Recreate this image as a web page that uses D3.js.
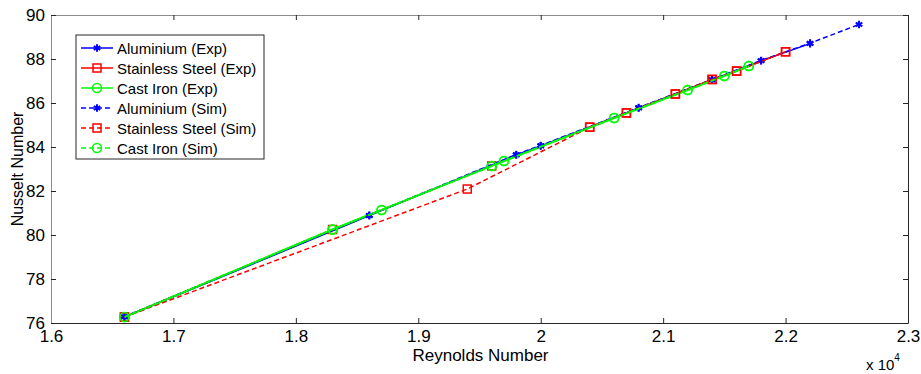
<!DOCTYPE html>
<html>
<head>
<meta charset="utf-8">
<script src="https://cdn.jsdelivr.net/npm/d3@7"></script>
<style>
  body { margin: 0; background: #fff; }
  svg { font-family: "Liberation Sans", Arial, sans-serif; }
</style>
</head>
<body>
<svg id="chart" width="921" height="374"></svg>
<script>
// values
const reAlExp = [16600, 18600, 19800, 20000, 20800, 21400, 21800, 22200];
const nuAlExp = [76.27, 80.88, 83.64, 84.05, 85.77, 87.05, 87.92, 88.7];
const reAlSim = [16600, 18600, 19800, 20000, 20800, 21400, 21800, 22200, 22600];
const nuAlSim = [76.29, 80.9, 83.66, 84.07, 85.79, 87.07, 87.93, 88.72, 89.57];

const reSsExp = [16600, 18300, 19600, 20400, 20700, 21100, 21400, 21600, 22000];
const nuSsExp = [76.27, 80.25, 83.14, 84.9, 85.55, 86.41, 87.07, 87.45, 88.33];
const reSsSim = [16600, 19400, 20400, 20700, 21100, 21400, 21600, 22000];
const nuSsSim = [76.27, 82.09, 84.9, 85.55, 86.41, 87.07, 87.45, 88.33];

const reCiExp = [16600, 18300, 18700, 19600, 19700, 20600, 21200, 21500, 21700];
const nuCiExp = [76.27, 80.25, 81.14, 83.14, 83.36, 85.32, 86.59, 87.23, 87.68];
const reCiSim = [16600, 18300, 18700, 19600, 19700, 20600, 21200, 21500, 21700];
const nuCiSim = [76.27, 80.25, 81.14, 83.14, 83.36, 85.32, 86.59, 87.23, 87.68];

const xTicks = [16000, 17000, 18000, 19000, 20000, 21000, 22000, 23000];
const xTickLabels = ["1.6", "1.7", "1.8", "1.9", "2", "2.1", "2.2", "2.3"];
const yTicks = [76, 78, 80, 82, 84, 86, 88, 90];

const series = [
  { name: "Aluminium (Exp)", re: reAlExp, nu: nuAlExp, color: "#0000ff", dash: null, marker: "star" },
  { name: "Stainless Steel (Exp)", re: reSsExp, nu: nuSsExp, color: "#ff0000", dash: null, marker: "square" },
  { name: "Cast Iron (Exp)", re: reCiExp, nu: nuCiExp, color: "#00ff00", dash: null, marker: "circle" },
  { name: "Aluminium (Sim)", re: reAlSim, nu: nuAlSim, color: "#0000ff", dash: "5,3", marker: "star" },
  { name: "Stainless Steel (Sim)", re: reSsSim, nu: nuSsSim, color: "#ff0000", dash: "5,3", marker: "square" },
  { name: "Cast Iron (Sim)", re: reCiSim, nu: nuCiSim, color: "#00ff00", dash: "5,3", marker: "circle" }
];

var svg = d3.select("#chart"),
  margin = { top: 15, right: 13, bottom: 51, left: 51 },
  width = +svg.attr("width") - margin.left - margin.right,
  height = +svg.attr("height") - margin.top - margin.bottom;

var x = d3.scaleLinear().domain([16000, 23000]).range([0, width]);
var y = d3.scaleLinear().domain([76, 90]).range([height, 0]);

var g = svg.append("g")
  .attr("transform", "translate(" + margin.left + "," + margin.top + ")");

g.append("rect").attr("width", width).attr("height", height).attr("fill", "#fff");

// axes, ticks pointing inwards like matlab
var xAxis = g.append("g")
  .attr("transform", "translate(0," + height + ")")
  .call(d3.axisBottom(x).tickValues(xTicks)
    .tickFormat(function(d, i) { return xTickLabels[i]; })
    .tickSizeInner(-5).tickSizeOuter(0).tickPadding(7));
var xTop = g.append("g")
  .call(d3.axisTop(x).tickValues(xTicks).tickFormat("")
    .tickSizeInner(-5).tickSizeOuter(0));
var yAxis = g.append("g")
  .call(d3.axisLeft(y).tickValues(yTicks)
    .tickSizeInner(-5).tickSizeOuter(0).tickPadding(6));
var yRight = g.append("g")
  .attr("transform", "translate(" + width + ",0)")
  .call(d3.axisRight(y).tickValues(yTicks).tickFormat("")
    .tickSizeInner(-5).tickSizeOuter(0));

xAxis.select(".domain").attr("stroke", "#262626");
yRight.select(".domain").attr("stroke", "#262626");
xTop.select(".domain").attr("stroke", "#8c8c8c");
yAxis.select(".domain").attr("stroke", "#8c8c8c");
[xAxis, xTop, yAxis, yRight].forEach(function(a) {
  a.selectAll(".tick line").attr("stroke", "#262626");
});
xAxis.selectAll(".tick text")
  .attr("font-size", 17).attr("fill", "#000")
  .attr("font-family", "'Liberation Sans Narrow', 'Liberation Sans', Arial, sans-serif");
yAxis.selectAll(".tick text").attr("font-size", 17).attr("fill", "#000");

// axis titles
svg.append("text")
  .attr("x", margin.left + width / 2 + 1)
  .attr("y", 361)
  .attr("text-anchor", "middle")
  .attr("font-size", 17)
  .attr("font-family", "'Liberation Sans Narrow', 'Liberation Sans', Arial, sans-serif")
  .text("Reynolds Number");

svg.append("text")
  .attr("transform", "translate(23," + (margin.top + height / 2) + ") rotate(-90)")
  .attr("text-anchor", "middle")
  .attr("font-size", 16)
  .text("Nusselt Number");

var expo = svg.append("text")
  .attr("x", 866).attr("y", 370).attr("font-size", 15)
  .attr("font-family", "'Liberation Sans Narrow', 'Liberation Sans', Arial, sans-serif");
expo.append("tspan").text("x 10");
expo.append("tspan").attr("dy", -9).attr("font-size", 10).text("4");

function drawMarker(sel, type, color) {
  if (type === "square") {
    sel.append("rect").attr("x", -4).attr("y", -4).attr("width", 8).attr("height", 8)
      .attr("fill", "none").attr("stroke", color).attr("stroke-width", 1.5);
  } else if (type === "circle") {
    sel.append("circle").attr("r", 4.5)
      .attr("fill", "none").attr("stroke", color).attr("stroke-width", 1.5);
  } else {
    sel.append("path").attr("d", d3.symbol().type(d3.symbolAsterisk).size(40)())
      .attr("fill", "none").attr("stroke", color).attr("stroke-width", 2);
  }
}

var line = d3.line()
  .x(function(d) { return x(d[0]); })
  .y(function(d) { return y(d[1]); });

series.forEach(function(s) {
  var pts = s.re.map(function(r, i) { return [r, s.nu[i]]; });
  g.append("path")
    .datum(pts)
    .attr("fill", "none")
    .attr("stroke", s.color)
    .attr("stroke-width", s.color === "#00ff00" ? 2 : 1.5)
    .attr("stroke-dasharray", s.dash)
    .attr("d", line);
  g.selectAll(null)
    .data(pts)
    .enter()
    .append("g")
    .attr("transform", function(d) { return "translate(" + x(d[0]) + "," + y(d[1]) + ")"; })
    .each(function() { drawMarker(d3.select(this), s.marker, s.color); });
});

// legend
var legend = svg.append("g").attr("transform", "translate(76,35)");
legend.append("rect")
  .attr("width", 188).attr("height", 124)
  .attr("fill", "#fff").attr("stroke", "#262626").attr("stroke-width", 1);

series.forEach(function(s, i) {
  var row = legend.append("g").attr("transform", "translate(0," + (13 + i * 20) + ")");
  row.append("line")
    .attr("x1", 5).attr("x2", 37).attr("y1", 0).attr("y2", 0)
    .attr("stroke", s.color).attr("stroke-width", 1.5)
    .attr("stroke-dasharray", s.dash);
  var m = row.append("g").attr("transform", "translate(21,0)");
  drawMarker(m, s.marker, s.color);
  row.append("text")
    .attr("x", 41).attr("y", 5.5)
    .attr("font-size", 15)
    .text(s.name);
});
</script>
</body>
</html>
